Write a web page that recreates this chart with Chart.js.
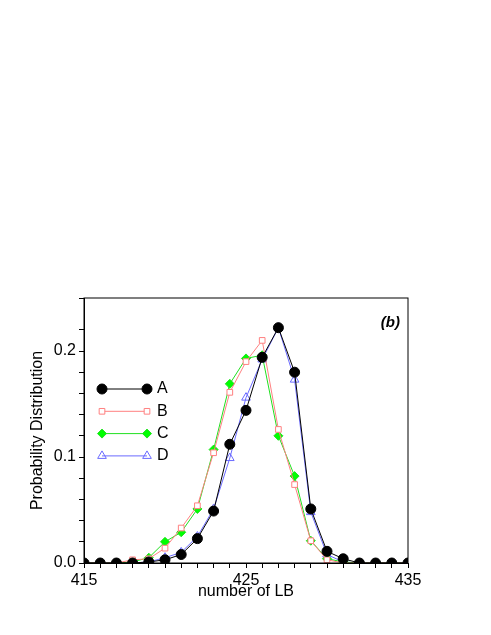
<!DOCTYPE html>
<html><head><meta charset="utf-8">
<script src="https://cdn.jsdelivr.net/npm/chart.js@4"></script>
<style>html,body{margin:0;background:#fff}#wrap{width:491px;height:635px}</style>
</head><body><div id="wrap"><canvas id="c"></canvas></div>
<script>
"use strict";

const xValues = [415,416,417,418,419,420,421,422,423,424,425,426,427,428,429,430,431,432,433,434,435];
const seriesA = [0,0,0,0,0.001,0.003,0.008,0.023,0.049,0.112,0.144,0.194,0.222,0.180,0.051,0.011,0.004,0,0,0,0];
const seriesB = [0,0,0,0.003,0.004,0.014,0.033,0.054,0.104,0.161,0.190,0.210,0.126,0.074,0.021,0.003,0,0,0,0,0];
const seriesC = [0,0,0,0.001,0.005,0.020,0.029,0.051,0.107,0.169,0.193,0.196,0.120,0.082,0.021,0.004,0.001,0,0,0,0];
const seriesD = [0,0,0,0,0.001,0.005,0.010,0.025,0.051,0.099,0.156,0.192,0.222,0.173,0.048,0.008,0.001,0,0,0,0];
const xTickLabels = [415,425,435];
const yTickLabels = [0, 0.1, 0.2];

const series = [
    {label: "A", data: seriesA, color: "#000000", fill: "#000000", style: "circle", radius: 5},
    {label: "B", data: seriesB, color: "#ff8080", fill: "#ffffff", style: "rect", radius: 4},
    {label: "C", data: seriesC, color: "#20e020", fill: "#00ff00", style: "rectRot", radius: 4.5},
    {label: "D", data: seriesD, color: "#6a6aff", fill: "rgba(0,0,0,0)", style: "triangle", radius: 5},
];

function pts(arr) { return arr.map((v, i) => ({x: xValues[i], y: v})); }

const legendPlugin = {
    id: "lineLegend",
    afterDraw(chart) {
        const ctx = chart.ctx;
        const area = chart.chartArea;
        chart.data.datasets.forEach((ds, i) => {
            const y = 389 + i * 22.3;
            const x0 = area.left + 18, x1 = area.left + 63;
            ctx.save();
            ctx.strokeStyle = ds.borderColor;
            ctx.fillStyle = ds.pointBackgroundColor;
            ctx.lineWidth = 1;
            ctx.beginPath(); ctx.moveTo(x0, y); ctx.lineTo(x1, y); ctx.stroke();
            [x0, x1].forEach(x => Chart.helpers.drawPoint(ctx, {
                pointStyle: ds.pointStyle, radius: ds.pointRadius, borderWidth: 1, rotation: 0
            }, x, y));
            ctx.fillStyle = "#000";
            ctx.font = "16px 'Liberation Sans', Arial";
            ctx.textBaseline = "middle";
            ctx.fillText(ds.label, x1 + 10, y);
            ctx.restore();
        });
        ctx.save();
        ctx.font = "bold italic 15px 'Liberation Sans', Arial";
        ctx.fillStyle = "#000";
        ctx.textAlign = "right";
        ctx.fillText("(b)", area.right - 8, area.top + 29);
        ctx.restore();
    }
};

new Chart(document.getElementById("c"), {
    type: "line",
    data: {
        datasets: series.map(s => ({
            label: s.label,
            data: pts(s.data),
            borderColor: s.color,
            backgroundColor: s.fill,
            pointBackgroundColor: s.fill,
            pointBorderColor: s.color,
            pointStyle: s.style,
            pointRadius: s.radius,
            borderWidth: 1,
            pointBorderWidth: 1,
            tension: 0
        }))
    },
    options: {
        responsive: true,
        maintainAspectRatio: false,
        animation: false,
        layout: {padding: {top: 298, right: 83, left: 24, bottom: 30}},
        plugins: {legend: {display: false}, tooltip: {enabled: false}},
        scales: {
            x: {
                type: "linear", min: 415, max: 435,
                afterFit: s => { s.height = 42; },
                border: {color: "#000"},
                grid: {drawOnChartArea: false, color: "#000", tickLength: 5},
                ticks: {
                    stepSize: 1, autoSkip: false, maxRotation: 0,
                    color: "#000", font: {size: 16, family: "'Liberation Sans', Arial"},
                    callback: v => xTickLabels.includes(v) ? String(v) : ""
                },
                title: {display: true, text: "number of LB", color: "#000",
                        font: {size: 16, family: "'Liberation Sans', Arial"}, padding: {top: 0}}
            },
            y: {
                min: 0, max: 0.25,
                afterFit: s => { s.width = 60; },
                border: {color: "#000"},
                grid: {drawOnChartArea: false, color: "#000", tickLength: 5},
                ticks: {
                    stepSize: 0.02, autoSkip: false,
                    color: "#000", font: {size: 16, family: "'Liberation Sans', Arial"},
                    callback: v => {
                        const r = Math.round(v * 100) / 100;
                        return yTickLabels.includes(r) ? r.toFixed(1) : "";
                    }
                },
                title: {display: true, text: "Probability Distribution", color: "#000",
                        font: {size: 16, family: "'Liberation Sans', Arial"}, padding: {bottom: 0}}
            }
        }
    },
    plugins: [legendPlugin, {
        id: "frame",
        afterDraw(chart) {
            const a = chart.chartArea, ctx = chart.ctx;
            ctx.save(); ctx.strokeStyle = "#000"; ctx.lineWidth = 1;
            ctx.strokeRect(a.left, a.top, a.right - a.left, a.bottom - a.top);
            ctx.restore();
        }
    }]
});
</script></body></html>
